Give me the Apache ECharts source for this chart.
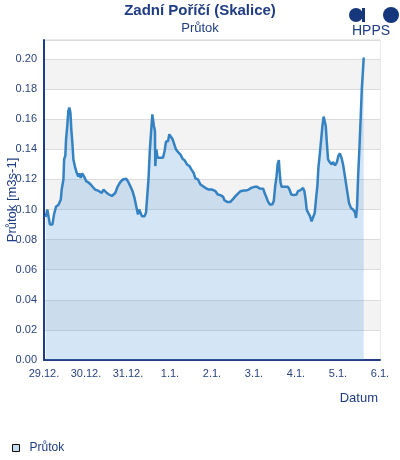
<!DOCTYPE html>
<html>
<head>
<meta charset="utf-8">
<script src="https://cdn.jsdelivr.net/npm/echarts@6/dist/echarts.min.js"></script>
<style>
html,body{margin:0;padding:0;background:#fff;}
#chart{width:400px;height:460px;}
</style>
</head>
<body>
<div id="chart"></div>
<script>
// hours since 29.12. 00:00
const hours = [1.0,1.5,1.9,2.5,3.4,4.8,5.7,6.9,8.2,9.6,10.1,11.1,11.5,12.2,12.6,13.3,13.9,14.5,15.1,15.6,16.2,16.8,17.8,18.7,19.6,20.2,21.0,21.8,22.9,24.1,25.4,26.7,27.9,29.2,30.5,31.7,33.0,34.0,34.9,35.9,37.2,38.8,39.7,40.7,42.0,43.5,45.1,47.0,48.3,49.3,50.6,51.7,52.7,53.7,54.4,55.4,56.0,57.5,58.3,59.0,59.7,60.5,61.3,61.9,62.4,62.8,63.4,63.6,64.2,64.9,66.4,68.0,68.9,69.7,70.9,71.6,72.6,73.5,74.6,75.4,76.6,77.9,79.2,80.4,81.7,83.1,84.2,85.5,86.5,88.0,89.4,90.7,92.2,94.1,96.1,98.0,99.3,100.8,102.4,103.1,104.7,106.5,108.1,109.4,110.7,112.3,114.2,115.7,117.0,118.4,120.3,121.8,123.3,125.3,126.0,127.2,127.9,129.1,130.4,131.3,132.1,132.9,133.5,134.2,134.6,135.2,135.8,137.5,139.4,140.3,141.3,142.8,144.3,145.1,146.6,148.0,148.8,149.5,150.1,151.0,152.0,152.9,153.7,154.7,155.6,156.2,156.8,157.5,158.3,159.1,159.8,160.4,161.0,161.5,162.3,163.2,164.4,165.1,166.3,167.4,168.2,169.0,170.0,170.9,171.8,172.8,173.7,174.3,175.4,176.6,177.7,178.3,178.9,179.5,180.3,181.0,181.6,182.2,182.7];
const flow = [0.095,0.0956,0.100,0.100,0.090,0.090,0.0967,0.102,0.103,0.1067,0.1133,0.120,0.1333,0.136,0.1467,0.1556,0.1656,0.1678,0.1644,0.1533,0.1447,0.1333,0.128,0.1244,0.122,0.124,0.121,0.124,0.122,0.1189,0.118,0.1167,0.115,0.1133,0.1127,0.112,0.111,0.1133,0.114,0.111,0.110,0.109,0.108,0.111,0.115,0.118,0.120,0.1205,0.118,0.1156,0.1122,0.1078,0.1022,0.0967,0.100,0.100,0.0956,0.0956,0.098,0.1089,0.120,0.140,0.1533,0.1633,0.1633,0.1556,0.1522,0.1289,0.140,0.1344,0.1344,0.1344,0.1389,0.1451,0.1456,0.150,0.1504,0.1467,0.1456,0.140,0.1382,0.1367,0.1338,0.1327,0.130,0.1289,0.1267,0.1244,0.1207,0.120,0.1167,0.1156,0.1144,0.1133,0.1133,0.1122,0.110,0.1096,0.1084,0.1062,0.1051,0.1051,0.1071,0.1089,0.1104,0.1122,0.1127,0.1127,0.1133,0.1144,0.1151,0.1151,0.114,0.1138,0.1111,0.1078,0.1056,0.1033,0.1033,0.1056,0.1156,0.1222,0.130,0.1329,0.1256,0.1178,0.1151,0.1151,0.1151,0.1133,0.110,0.1096,0.110,0.1122,0.1129,0.1144,0.1122,0.1067,0.100,0.0978,0.0956,0.0922,0.0933,0.0978,0.1089,0.1156,0.1278,0.1356,0.1456,0.1556,0.1618,0.162,0.1556,0.1467,0.1333,0.1316,0.130,0.1316,0.1293,0.1316,0.1356,0.1373,0.1344,0.130,0.1233,0.1156,0.1089,0.1044,0.1011,0.100,0.0982,0.0944,0.1022,0.1222,0.1422,0.1622,0.180,0.1911,0.2011];
const xTickLabels = ['29.12.','30.12.','31.12.','1.1.','2.1.','3.1.','4.1.','5.1.','6.1.'];

const navy = '#1f3c84';
const font = 'Liberation Sans, Arial, sans-serif';
const chart = echarts.init(document.getElementById('chart'), null, {renderer:'canvas'});
chart.setOption({
  animation: false,
  textStyle: {fontFamily: font},
  title: {
    text: 'Zadní Poříčí (Skalice)',
    subtext: 'Průtok',
    left: 'center', top: -2, itemGap: 4,
    textStyle: {fontFamily: font, fontSize: 15, fontWeight: 'bold', color: navy},
    subtextStyle: {fontFamily: font, fontSize: 13, color: navy}
  },
  graphic: [
    {type:'circle', shape:{cx:356, cy:15, r:7}, style:{fill:'#17377c'}},
    {type:'rect', shape:{x:362, y:8, width:3, height:14}, style:{fill:'#17377c'}},
    {type:'circle', shape:{cx:391, cy:15, r:8}, style:{fill:'#17377c'}},
    {type:'text', left:352, top:24, style:{text:'HPPS', fontFamily:font, fontSize:14, fill:navy}}
  ],
  legend: {
    left: 7, top: 437,
    icon: 'rect', itemWidth: 7, itemHeight: 7, itemGap: 10,
    itemStyle: {color:'#c6ddf2', borderColor:'#111', borderWidth:1},
    textStyle: {fontFamily: font, fontSize: 12, color: navy, padding: [0, 0, 0, 5]},
    data: ['Průtok']
  },
  grid: {left: 44, right: 20, top: 40, bottom: 100, outerBoundsMode: 'none', containLabel: false,
    show: true, borderColor: '#d6d6d6', borderWidth: 1, backgroundColor: 'transparent'},
  xAxis: {
    type: 'value', min: 0, max: 192, interval: 24,
    name: 'Datum', nameLocation: 'end', nameGap: 0,
    nameTextStyle: {fontFamily: font, fontSize: 13, color: navy, align: 'right', verticalAlign: 'top', padding: [32, 2, 0, 0]},
    axisLine: {show: true, lineStyle: {color: navy, width: 2}},
    axisTick: {show: false},
    splitLine: {show: false},
    axisLabel: {fontFamily: font, fontSize: 11, color: '#2a4480', margin: 8,
      formatter: v => xTickLabels[Math.round(v/24)] || ''}
  },
  yAxis: {
    type: 'value', min: 0, max: 0.2127, interval: 0.02,
    name: 'Průtok [m3s-1]', nameLocation: 'middle', nameRotate: 90, nameGap: 25, nameMoveOverlap: false,
    nameTextStyle: {fontFamily: font, fontSize: 13, color: navy},
    axisLine: {show: true, lineStyle: {color: navy, width: 2}},
    axisTick: {show: false},
    axisLabel: {fontFamily: font, fontSize: 11, color: '#2a4480', margin: 7, showMaxLabel: false,
      formatter: v => v.toFixed(2)},
    splitLine: {show: true, lineStyle: {color: '#dcdcdc', width: 1}},
    splitArea: {show: true, areaStyle: {color: ['#ffffff', '#f3f3f3']}}
  },
  series: [{
    name: 'Průtok',
    type: 'line',
    data: hours.map((h, i) => [h, flow[i]]),
    showSymbol: false,
    lineStyle: {color: '#3482c2', width: 2.5},
    itemStyle: {color: '#3482c2'},
    areaStyle: {color: 'rgba(78,150,212,0.35)'}
  }]
});
</script>
</body>
</html>
